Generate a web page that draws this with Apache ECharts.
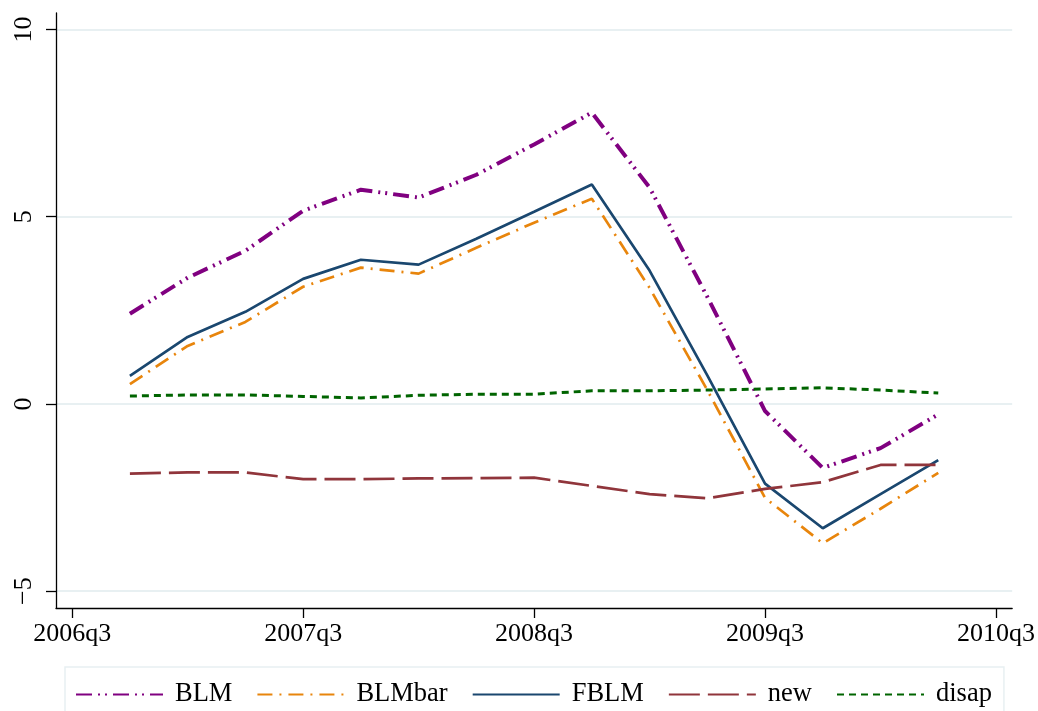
<!DOCTYPE html>
<html>
<head>
<meta charset="utf-8">
<script src="https://cdn.jsdelivr.net/npm/echarts@6/dist/echarts.min.js"></script>
<style>
  html, body { margin: 0; padding: 0; background: #fff; }
  #chart { width: 1038px; height: 711px; }
</style>
</head>
<body>
<div id="chart"></div>
<script>
// Quarterly observations
const quarters = ['2006q4', '2007q1', '2007q2', '2007q3', '2007q4', '2008q1', '2008q2', '2008q3',
                  '2008q4', '2009q1', '2009q2', '2009q3', '2009q4', '2010q1', '2010q2'];
const blm    = [2.41, 3.37, 4.09, 5.16, 5.72, 5.51, 6.12, 6.93, 7.78, 5.78, 2.86, -0.19, -1.71, -1.18, -0.28];
const blmbar = [0.53, 1.55, 2.19, 3.13, 3.64, 3.48, 4.17, 4.84, 5.48, 3.10, 0.37, -2.51, -3.72, -2.80, -1.84];
const fblm   = [0.75, 1.79, 2.46, 3.34, 3.85, 3.72, 4.41, 5.13, 5.86, 3.56, 0.76, -2.13, -3.32, -2.41, -1.50];
const newS   = [-1.86, -1.83, -1.83, -2.01, -2.01, -1.99, -1.98, -1.97, -2.19, -2.41, -2.52, -2.27, -2.09, -1.63, -1.63];
const disap  = [0.21, 0.24, 0.24, 0.20, 0.16, 0.23, 0.26, 0.26, 0.35, 0.35, 0.37, 0.40, 0.43, 0.37, 0.29];

// Axis ticks
const xTickLabels = ['2006q3', '2007q3', '2008q3', '2009q3', '2010q3'];
const yTicks = [-5, 0, 5, 10];

// Quarters counted from 2006q3
const BASE_YEAR = 2006, BASE_Q = 3;
function qIndex(label) {
  const y = parseInt(label.slice(0, 4), 10);
  const q = parseInt(label.slice(5), 10);
  return (y - BASE_YEAR) * 4 + (q - BASE_Q);
}
function qLabel(idx) {
  const total = BASE_YEAR * 4 + (BASE_Q - 1) + Math.round(idx);
  return Math.floor(total / 4) + 'q' + (total % 4 + 1);
}
const xTicks = xTickLabels.map(qIndex);
const pairs = vals => quarters.map((q, i) => [qIndex(q), vals[i]]);

const FONT = '"Liberation Serif", "DejaVu Serif", serif';

const chart = echarts.init(document.getElementById('chart'), null, { renderer: 'canvas' });

function lineSeries(name, vals, color, width, dash) {
  return {
    name: name,
    type: 'line',
    data: pairs(vals),
    symbol: 'none',
    showSymbol: false,
    animation: false,
    lineStyle: { color: color, width: width, type: dash, cap: 'butt' },
    itemStyle: { color: color }
  };
}

chart.setOption({
  backgroundColor: '#ffffff',
  animation: false,
  grid: { left: 56, right: 25, top: 13, bottom: 103 },
  xAxis: {
    type: 'value',
    min: -0.28,
    max: 16.28,
    axisLine: { show: true, onZero: false, lineStyle: { color: '#000', width: 1.3 } },
    axisTick: { show: true, length: 10, inside: false, customValues: xTicks,
                lineStyle: { color: '#000', width: 1.3 } },
    axisLabel: { customValues: xTicks, formatter: v => qLabel(v), margin: 13,
                 color: '#000', fontFamily: FONT, fontSize: 26 },
    splitLine: { show: false }
  },
  yAxis: {
    type: 'value',
    min: -5.45,
    max: 10.44,
    axisLine: { show: true, onZero: false, lineStyle: { color: '#000', width: 1.3 } },
    axisTick: { show: true, length: 10, customValues: yTicks,
                lineStyle: { color: '#000', width: 1.3 } },
    axisLabel: { customValues: yTicks, rotate: 90, margin: 19,
                 formatter: v => (v < 0 ? '\u2212' + Math.abs(v) : String(v)),
                 color: '#000', fontFamily: FONT, fontSize: 26 },
    splitLine: { show: true, lineStyle: { color: '#e8f0f2', width: 2 } }
  },
  legend: {
    left: 65,
    top: 667,
    orient: 'horizontal',
    itemWidth: 87,
    itemHeight: 20,
    itemGap: 24,
    padding: [14, 12, 12, 10],
    borderColor: '#e8f0f2',
    borderWidth: 1.5,
    itemStyle: { color: 'rgba(0,0,0,0)', opacity: 0, borderWidth: 0 },
    textStyle: { color: '#000', fontFamily: FONT, fontSize: 26.5, padding: [0, 0, 0, 7] },
    data: ['BLM', 'BLMbar', 'FBLM', 'new', 'disap']
  },
  series: [
    lineSeries('BLM', blm, '#800080', 4, [16, 6, 2, 5, 2, 6]),
    lineSeries('BLMbar', blmbar, '#e8850c', 2.7, [15, 7, 2, 7]),
    lineSeries('FBLM', fblm, '#1a476f', 2.7, 'solid'),
    lineSeries('new', newS, '#90353b', 2.7, [31, 8]),
    lineSeries('disap', disap, '#006400', 3, [7, 5])
  ]
});
</script>
</body>
</html>
